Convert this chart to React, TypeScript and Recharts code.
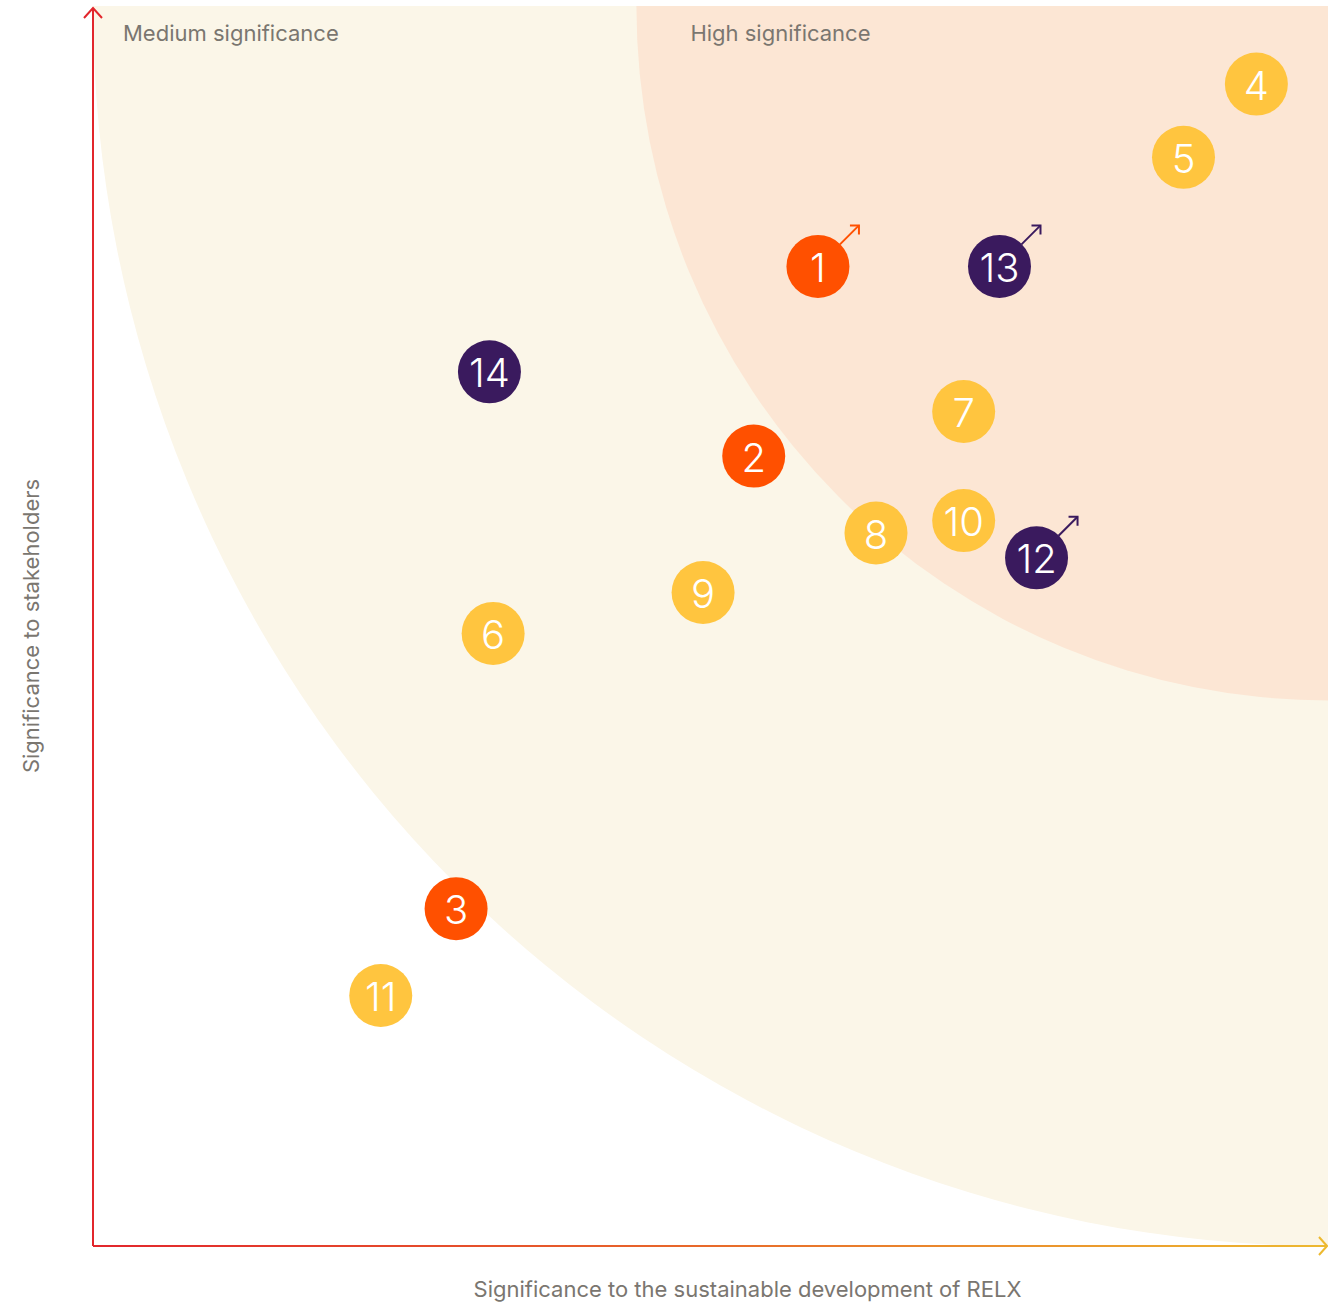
import React from "react";
import { ScatterChart, Scatter, XAxis, YAxis, ReferenceArea } from "recharts";

// materiality topics: x = significance to RELX, y = significance to stakeholders
const topicIds = [1, 2, 3, 4, 5, 6, 7, 8, 9, 10, 11, 12, 13, 14];
const relxScores = [58.7, 53.5, 29.4, 94.2, 88.3, 32.4, 70.5, 63.4, 49.4, 70.5, 23.3, 76.4, 73.4, 32.1];
const stakeholderScores = [79.0, 63.7, 27.2, 93.7, 87.8, 49.4, 67.3, 57.5, 52.7, 58.5, 20.2, 55.5, 79.0, 70.5];
const groups = ["orange", "orange", "orange", "yellow", "yellow", "yellow", "yellow", "yellow", "yellow", "yellow", "yellow", "purple", "purple", "purple"];
const rising = [true, false, false, false, false, false, false, false, false, false, false, true, true, false];

const mediumRadius = 100;
const highRadius = 56;
const zoneLabels = ["Medium significance", "High significance"];
const xAxisTitle = "Significance to the sustainable development of RELX";
const yAxisTitle = "Significance to stakeholders";

const COLORS: Record<string, string> = {
  yellow: "#FFC53F",
  orange: "#FF5000",
  purple: "#3A1A5E",
};

const FONT = "Inter, 'Open Sans', sans-serif";
const GREY = "#7A7670";

const data = topicIds.map((id, i) => ({
  id,
  x: relxScores[i],
  y: stakeholderScores[i],
  group: groups[i],
  rising: rising[i],
}));

// quarter ellipse anchored at the top-right corner of the given rect
const Zone = (fill: string, label: string, labelDx: number) => (props: any) => {
  const { x, y, width, height } = props;
  const d = `M ${x + width} ${y} L ${x} ${y} A ${width} ${height} 0 0 0 ${x + width} ${y + height} Z`;
  return (
    <g>
      <path d={d} fill={fill} />
      <text x={x + labelDx} y={y + 35} fill={GREY} fontSize={22} fontFamily={FONT} fontWeight={400}>
        {label}
      </text>
    </g>
  );
};

const Axes = (props: any) => {
  const { x, y, width, height } = props;
  const bottom = y + height;
  const right = x + width;
  return (
    <g fill="none" strokeWidth={2}>
      <defs>
        <linearGradient id="xAxisGrad" gradientUnits="userSpaceOnUse" x1={x} y1={0} x2={right} y2={0}>
          <stop offset="0%" stopColor="#E2262C" />
          <stop offset="50%" stopColor="#E86A2A" />
          <stop offset="100%" stopColor="#EDB930" />
        </linearGradient>
      </defs>
      <line x1={x} y1={bottom} x2={x} y2={y + 2} stroke="#E2262C" />
      <polyline points={`${x - 9},${y + 12} ${x},${y + 2} ${x + 9},${y + 12}`} stroke="#E2262C" />
      <line x1={x} y1={bottom} x2={right - 1} y2={bottom} stroke="url(#xAxisGrad)" />
      <polyline points={`${right - 9},${bottom - 9} ${right - 1},${bottom} ${right - 9},${bottom + 9}`} stroke="#EDB930" />
    </g>
  );
};

const Bubble = (props: any) => {
  const { cx, cy, payload } = props;
  const color = COLORS[payload.group];
  return (
    <g>
      {payload.rising && (
        <g stroke={color} strokeWidth={2} fill="none">
          <line x1={cx + 22} y1={cy - 22} x2={cx + 41} y2={cy - 41} />
          <polyline points={`${cx + 32},${cy - 41} ${cx + 41},${cy - 41} ${cx + 41},${cy - 32}`} />
        </g>
      )}
      <circle cx={cx} cy={cy} r={31.5} fill={color} />
      <text
        x={cx}
        y={cy + 1}
        textAnchor="middle"
        dominantBaseline="central"
        fill="#FFFFFF"
        fontSize={40}
        fontWeight={300}
        fontFamily={FONT}
      >
        {payload.id}
      </text>
    </g>
  );
};

export default function App() {
  return (
    <div style={{ position: "absolute", left: 0, top: 0, background: "#FFFFFF" }}>
      <ScatterChart width={1328} height={1302} margin={{ top: 6, right: 0, bottom: 0, left: 0 }}>
        <XAxis
          type="number"
          dataKey="x"
          domain={[0, 100]}
          tick={false}
          tickLine={false}
          axisLine={false}
          height={56}
          label={{
            content: ({ viewBox }: any) => (
              <text
                x={viewBox.x + viewBox.width / 2 + 37}
                y={viewBox.y + 51}
                textAnchor="middle"
                fill={GREY}
                fontSize={22}
                fontFamily={FONT}
              >
                {xAxisTitle}
              </text>
            ),
          }}
        />
        <YAxis
          type="number"
          dataKey="y"
          domain={[0, 100]}
          tick={false}
          tickLine={false}
          axisLine={false}
          width={93}
          label={{
            content: ({ viewBox }: any) => {
              const cy = viewBox.y + viewBox.height / 2;
              return (
                <text
                  x={39}
                  y={cy}
                  transform={`rotate(-90, 39, ${cy})`}
                  textAnchor="middle"
                  fill={GREY}
                  fontSize={22}
                  fontFamily={FONT}
                >
                  {yAxisTitle}
                </text>
              );
            },
          }}
        />
        <ReferenceArea
          x1={100 - mediumRadius}
          x2={100}
          y1={100 - mediumRadius}
          y2={100}
          shape={Zone("#FBF6E8", zoneLabels[0], 30)}
          ifOverflow="visible"
        />
        <ReferenceArea
          x1={100 - highRadius}
          x2={100}
          y1={100 - highRadius}
          y2={100}
          shape={Zone("#FCE6D4", zoneLabels[1], 54)}
          ifOverflow="visible"
        />
        <ReferenceArea x1={0} x2={100} y1={0} y2={100} shape={Axes} ifOverflow="visible" />
        <Scatter data={data} shape={Bubble} isAnimationActive={false} />
      </ScatterChart>
    </div>
  );
}
